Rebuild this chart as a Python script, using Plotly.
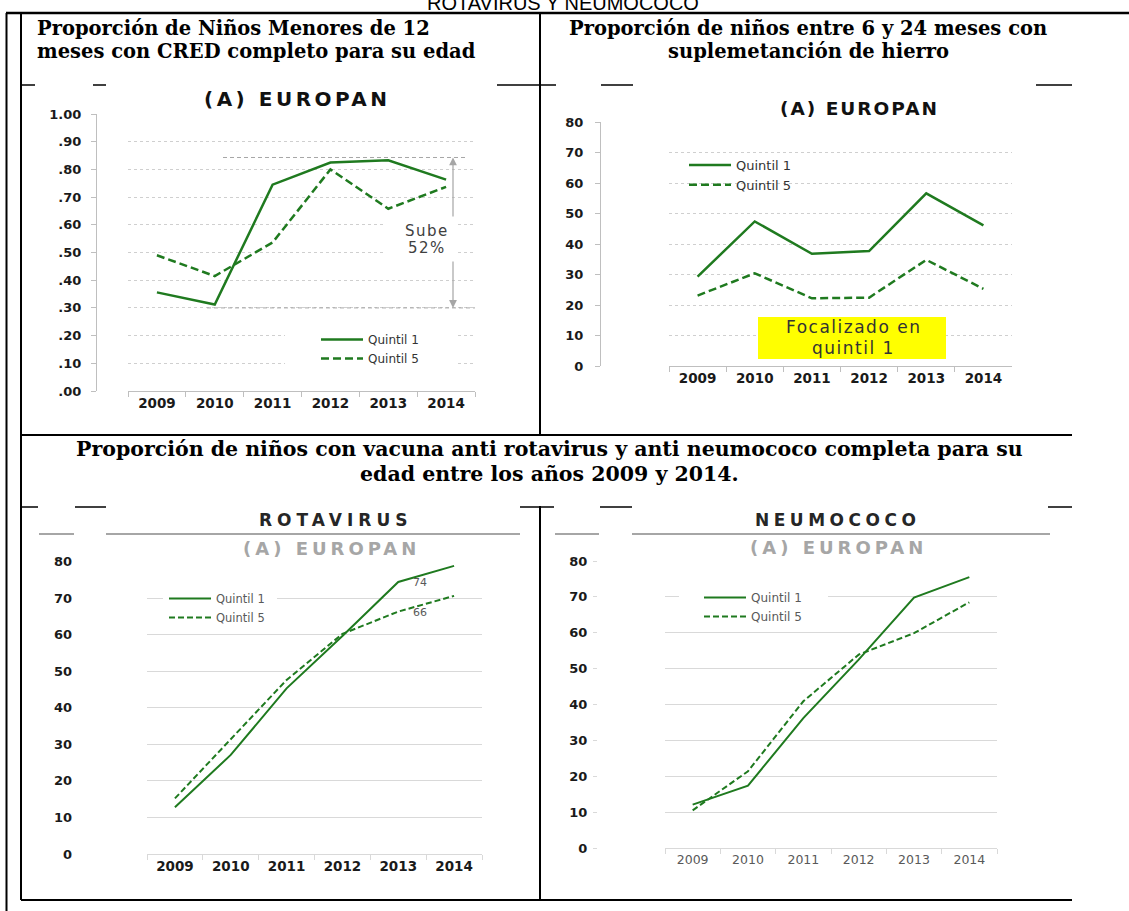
import plotly.graph_objects as go

W, H = 1129, 911

# ---------------- data ----------------
years = ["2009", "2010", "2011", "2012", "2013", "2014"]
series_names = ["Quintil 1", "Quintil 5"]

cred_q1 = [0.356, 0.312, 0.745, 0.825, 0.833, 0.763]
cred_q5 = [0.490, 0.415, 0.536, 0.800, 0.658, 0.737]
cred_ticks = [0.0, 0.1, 0.2, 0.3, 0.4, 0.5, 0.6, 0.7, 0.8, 0.9, 1.0]
cred_ticktext = [".00", ".10", ".20", ".30", ".40", ".50", ".60", ".70", ".80", ".90", "1.00"]
cred_ref_high = 0.843
cred_ref_low = 0.30

hierro_q1 = [29.3, 47.4, 36.8, 37.7, 56.6, 46.1]
hierro_q5 = [23.1, 30.4, 22.2, 22.4, 34.8, 25.3]

rota_q1 = [12.8, 27.1, 45.3, 59.6, 74.4, 78.8]
rota_q5 = [15.2, 31.4, 47.6, 60.2, 66.3, 70.6]

neumo_q1 = [12.1, 17.4, 36.2, 52.5, 69.8, 75.5]
neumo_q5 = [10.5, 21.4, 40.9, 53.9, 59.9, 68.5]

pct_ticks = [0, 10, 20, 30, 40, 50, 60, 70, 80]

GREEN = "#1f7a1f"
GRID = "#cfcfcf"
AXIS = "#bfbfbf"
SANS = "DejaVu Sans"
SERIF = "DejaVu Serif"


def X(px):
    return px / W


def Y(py):
    return 1 - py / H


def spaced(text, ls):
    return f"<span style='letter-spacing:{ls}px'>{text}</span>"


fig = go.Figure()

# ---------------- traces ----------------
panels = [
    ("x", "y", "legend", cred_q1, cred_q5, 2.5, "8px,4px"),
    ("x2", "y2", "legend2", hierro_q1, hierro_q5, 2.5, "8px,4px"),
    ("x3", "y3", "legend3", rota_q1, rota_q5, 2.0, "6px,3px"),
    ("x4", "y4", "legend4", neumo_q1, neumo_q5, 2.0, "6px,3px"),
]
for xa, ya, lg, q1, q5, lw, dsh in panels:
    fig.add_trace(go.Scatter(x=years, y=q1, mode="lines", name=series_names[0],
                             line=dict(color=GREEN, width=lw), xaxis=xa, yaxis=ya,
                             legend=lg, hoverinfo="x+y"))
    fig.add_trace(go.Scatter(x=years, y=q5, mode="lines", name=series_names[1],
                             line=dict(color=GREEN, width=lw, dash=dsh), xaxis=xa, yaxis=ya,
                             legend=lg, hoverinfo="x+y"))


def bold(size, color="#1a1a1a"):
    return dict(family=SANS, size=size, color=color, weight="bold")


def xcat(domain_px, anchor, tickfont, linecolor=AXIS):
    return dict(domain=[X(domain_px[0]), X(domain_px[1])], anchor=anchor, type="category",
                range=[-0.5, 5.5], showline=True, linecolor=linecolor, linewidth=1,
                ticks="outside", tickson="boundaries", ticklen=5, tickcolor=linecolor,
                showgrid=False, zeroline=False, tickfont=tickfont, fixedrange=True)


def yval(domain_px, pos_px, rng, tickvals, ticktext, showline, ticks, griddash, standoff,
         gridcolor=GRID, tickcolor=AXIS, ticklen=5):
    return dict(domain=[Y(domain_px[0]), Y(domain_px[1])], anchor="free",
                position=X(pos_px), range=rng, tickvals=tickvals, ticktext=ticktext,
                showline=showline, linecolor=AXIS, linewidth=1, ticks=ticks, ticklen=ticklen,
                tickcolor=tickcolor, showgrid=True, gridcolor=gridcolor, gridwidth=1,
                griddash=griddash, zeroline=False, tickfont=bold(13),
                ticklabelstandoff=standoff, fixedrange=True)


pct_text = [str(v) for v in pct_ticks]
layout = dict(
    width=W, height=H, autosize=False,
    margin=dict(l=0, r=0, t=0, b=0, pad=0, autoexpand=False),
    paper_bgcolor="white", plot_bgcolor="white",
    font=dict(family=SANS, color="#262626"),
    xaxis=xcat((128, 475), "y", bold(13.5)),
    yaxis=yval((391, 114), 96, [0, 1], cred_ticks, cred_ticktext, True, "outside", "dot", 7),
    xaxis2=xcat((669, 1012), "y2", bold(13.5)),
    yaxis2=yval((366, 122), 600, [0, 80], pct_ticks, pct_text, True, "outside", "dot", 9),
    xaxis3=xcat((147, 482), "y3", bold(13.5), linecolor="#d9d9d9"),
    yaxis3=yval((854, 561.5), 72, [0, 80], pct_ticks, pct_text, False, "", "solid", 0,
                gridcolor="#d9d9d9"),
    xaxis4=xcat((665, 997), "y4", dict(family=SANS, size=12.5, color="#595959"), linecolor="#d9d9d9"),
    yaxis4=yval((848, 561), 597, [0, 80], pct_ticks, pct_text, False, "outside", "solid", 3,
                gridcolor="#d9d9d9", tickcolor="#d9d9d9", ticklen=4),
)


def legend_at(px, py, size, color):
    return dict(x=X(px), y=Y(py), xanchor="left", yanchor="top", bgcolor="rgba(0,0,0,0)",
                borderwidth=0, font=dict(family=SANS, size=size, color=color),
                tracegroupgap=0, itemwidth=42, traceorder="normal")


layout["legend"] = legend_at(316, 325, 12, "#333333")
layout["legend2"] = legend_at(684, 150, 13, "#333333")
layout["legend3"] = legend_at(164, 584, 11.5, "#595959")
layout["legend4"] = legend_at(699, 583, 12, "#595959")

fig.update_layout(**layout)

# ---------------- shapes ----------------
shapes = []


def pline(x0, y0, x1, y1, color="black", width=2, dash=None):
    shapes.append(dict(type="line", xref="paper", yref="paper", x0=X(x0), y0=Y(y0),
                       x1=X(x1), y1=Y(y1), line=dict(color=color, width=width, dash=dash),
                       layer="above"))


# table borders
pline(6, 13, 1129, 13, width=2.5)
pline(6.5, 13, 6.5, 911)
pline(21, 13, 21, 900)
pline(540, 13, 540, 435)
pline(540, 506, 540, 900)
pline(21, 435, 1072, 435)
pline(21, 900, 1072, 900)
for a, b in [(22, 35), (93, 106), (497, 556), (601, 633), (1036, 1072)]:
    pline(a, 85, b, 85, width=1.5)
for a, b in [(21, 38), (75, 106), (520, 554), (600, 632), (1048, 1072)]:
    pline(a, 507, b, 507, width=1.5)
for a, b in [(39, 74), (106, 520), (555, 599), (632, 1050)]:
    pline(a, 534, b, 534, color="#a6a6a6", width=2)


def cx(px, left, width):
    return (px - left) / (width / 6.0) - 0.5


# chart 1 reference lines
shapes.append(dict(type="line", xref="x", yref="y", x0=cx(223, 128, 347), x1=cx(468, 128, 347),
                   y0=cred_ref_high, y1=cred_ref_high,
                   line=dict(color="#a6a6a6", width=1, dash="4px,3px"), layer="above"))
shapes.append(dict(type="line", xref="x", yref="y", x0=cx(207, 128, 347), x1=5.5,
                   y0=cred_ref_low, y1=cred_ref_low,
                   line=dict(color="#a6a6a6", width=1, dash="4px,3px"), layer="above"))
# white boxes (text box / legend boxes)
shapes.append(dict(type="rect", xref="x", yref="y", x0=cx(383, 128, 347), x1=cx(457, 128, 347),
                   y0=0.473, y1=0.625, fillcolor="white", line=dict(width=0), layer="above"))
shapes.append(dict(type="rect", xref="x", yref="y", x0=cx(285, 128, 347), x1=cx(455, 128, 347),
                   y0=0.075, y1=0.245, fillcolor="white", line=dict(width=0), layer="above"))
shapes.append(dict(type="rect", xref="x3", yref="y3", x0=cx(163, 147, 335), x1=cx(277, 147, 335),
                   y0=61.5, y1=73.5, fillcolor="white", line=dict(width=0), layer="above"))
shapes.append(dict(type="rect", xref="x4", yref="y4", x0=cx(679, 665, 332), x1=cx(828, 665, 332),
                   y0=61.5, y1=74.5, fillcolor="white", line=dict(width=0), layer="above"))
# yellow box chart 2
shapes.append(dict(type="rect", xref="paper", yref="paper", x0=X(758), x1=X(946), y0=Y(359), y1=Y(317),
                   fillcolor="#ffff00", line=dict(width=0), layer="above"))

fig.update_layout(shapes=shapes)

# ---------------- annotations ----------------
ann = []


def ptext(px, py, text, size, color="black", family=SANS, weight="normal", xanchor="center"):
    ann.append(dict(xref="paper", yref="paper", x=X(px), y=Y(py), text=text, showarrow=False,
                    xanchor=xanchor, yanchor="middle",
                    font=dict(family=family, size=size, color=color, weight=weight)))


ptext(563, 3, "ROTAVIRUS Y NEUMOCOCO", 20, family="Liberation Sans")
ptext(35, 28, "Proporción de Niños Menores de 12", 19.5, family=SERIF, weight="bold", xanchor="left")
ptext(35, 52, "meses con CRED completo para su edad", 19.5, family=SERIF, weight="bold", xanchor="left")
ptext(808, 28, "Proporción de niños entre 6 y 24 meses con", 19.5, family=SERIF, weight="bold")
ptext(808, 52, "suplemetanción de hierro", 19.5, family=SERIF, weight="bold")
ptext(549, 449, "Proporción de niños con vacuna anti rotavirus y anti neumococo completa para su", 20.5,
      family=SERIF, weight="bold")
ptext(549, 474, "edad entre los años 2009 y 2014.", 20.5, family=SERIF, weight="bold")

ptext(297, 99, spaced("(A) EUROPAN", 3.5), 20, color="#111111", weight="bold")
ptext(859, 109, spaced("(A) EUROPAN", 2), 18.5, color="#111111", weight="bold")
ptext(335, 520, spaced("ROTAVIRUS", 5), 17, color="#262626", weight="bold")
ptext(837, 520, spaced("NEUMOCOCO", 4.5), 17, color="#262626", weight="bold")
ptext(331, 548, spaced("(A) EUROPAN", 4), 18, color="#a6a6a6", weight="bold")
ptext(838, 547, spaced("(A) EUROPAN", 4), 18, color="#a6a6a6", weight="bold")

ptext(853, 327, spaced("Focalizado en", 1.5), 17, color="#333333")
ptext(853, 348, spaced("quintil 1", 1.5), 17, color="#333333")
ptext(427, 231, spaced("Sube", 1.5), 15, color="#404040")
ptext(427, 248, spaced("52%", 1.5), 15, color="#404040")

# double arrow (split around the text box)
ax_x = cx(453, 128, 347)
for tail, head in [(0.625, cred_ref_high), (0.473, cred_ref_low)]:
    ann.append(dict(xref="x", yref="y", axref="x", ayref="y", x=ax_x, y=head, ax=ax_x, ay=tail,
                    text="", showarrow=True, arrowhead=2, arrowsize=1.3, arrowwidth=1.2,
                    arrowcolor="#a6a6a6"))

# data labels for rotavirus 2013 (category index of 2013)
i13 = years.index("2013")
for vals in (rota_q1, rota_q5):
    ann.append(dict(xref="x3", yref="y3", x=i13, y=vals[i13], text=f"{round(vals[i13])}",
                    showarrow=False, xshift=22, yshift=-1,
                    font=dict(family=SANS, size=11, color="#595959")))

fig.update_layout(annotations=ann)

fig.write_html(
    "out.html",
    config={"displayModeBar": False},
    post_script="document.body.style.margin='0';document.body.style.padding='0';"
                "document.body.style.overflow='hidden';",
)
